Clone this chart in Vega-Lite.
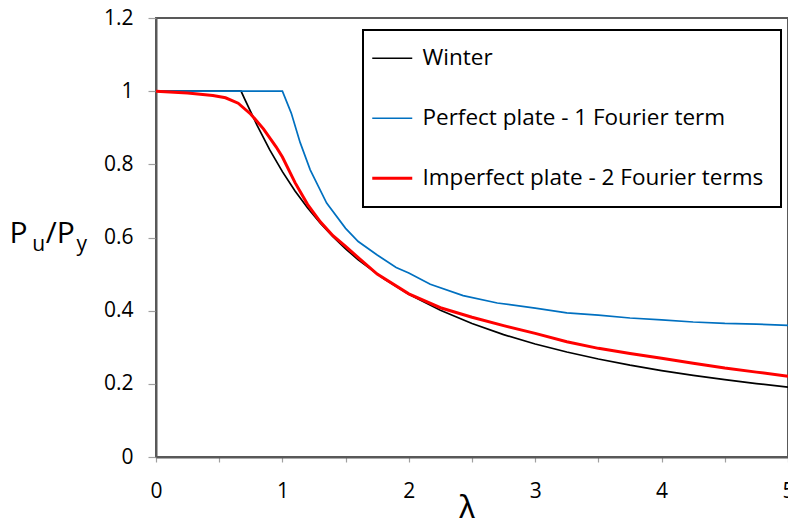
{
  "$schema": "https://vega.github.io/schema/vega-lite/v6.json",
  "width": 632,
  "height": 439,
  "autosize": {"type": "none"},
  "padding": {"left": 156, "top": 18, "right": 0, "bottom": 61},
  "background": "white",
  "config": {
    "view": {"stroke": "#595959", "strokeWidth": 2},
    "font": "Open Sans",
    "axis": {
      "grid": false,
      "domainColor": "#595959",
      "domainWidth": 2,
      "tickColor": "#a0a0a0",
      "tickWidth": 1.2,
      "labelFont": "Open Sans",
      "labelFontSize": 21,
      "labelColor": "#000000",
      "labelFlush": false,
      "labelOverlap": false
    }
  },
  "data": {
    "values": [
      {"series": "Winter", "lam": 0, "v": 1.0},
      {"series": "Winter", "lam": 0.673, "v": 1.0},
      {"series": "Winter", "lam": 0.7, "v": 0.9796},
      {"series": "Winter", "lam": 0.8, "v": 0.9063},
      {"series": "Winter", "lam": 0.9, "v": 0.8395},
      {"series": "Winter", "lam": 1.0, "v": 0.78},
      {"series": "Winter", "lam": 1.1, "v": 0.7273},
      {"series": "Winter", "lam": 1.2, "v": 0.6806},
      {"series": "Winter", "lam": 1.3, "v": 0.6391},
      {"series": "Winter", "lam": 1.4, "v": 0.602},
      {"series": "Winter", "lam": 1.5, "v": 0.5689},
      {"series": "Winter", "lam": 1.6, "v": 0.5391},
      {"series": "Winter", "lam": 1.8, "v": 0.4877},
      {"series": "Winter", "lam": 2.0, "v": 0.445},
      {"series": "Winter", "lam": 2.25, "v": 0.401},
      {"series": "Winter", "lam": 2.5, "v": 0.3648},
      {"series": "Winter", "lam": 2.75, "v": 0.3345},
      {"series": "Winter", "lam": 3.0, "v": 0.3089},
      {"series": "Winter", "lam": 3.25, "v": 0.2869},
      {"series": "Winter", "lam": 3.5, "v": 0.2678},
      {"series": "Winter", "lam": 3.75, "v": 0.251},
      {"series": "Winter", "lam": 4.0, "v": 0.2363},
      {"series": "Winter", "lam": 4.25, "v": 0.2231},
      {"series": "Winter", "lam": 4.5, "v": 0.2114},
      {"series": "Winter", "lam": 4.75, "v": 0.2008},
      {"series": "Winter", "lam": 5.0, "v": 0.1912},

      {"series": "Perfect plate - 1 Fourier term", "lam": 0, "v": 1.0},
      {"series": "Perfect plate - 1 Fourier term", "lam": 1.0, "v": 1.0},
      {"series": "Perfect plate - 1 Fourier term", "lam": 1.07, "v": 0.94},
      {"series": "Perfect plate - 1 Fourier term", "lam": 1.14, "v": 0.86},
      {"series": "Perfect plate - 1 Fourier term", "lam": 1.22, "v": 0.785},
      {"series": "Perfect plate - 1 Fourier term", "lam": 1.35, "v": 0.694},
      {"series": "Perfect plate - 1 Fourier term", "lam": 1.5, "v": 0.625},
      {"series": "Perfect plate - 1 Fourier term", "lam": 1.6, "v": 0.589},
      {"series": "Perfect plate - 1 Fourier term", "lam": 1.75, "v": 0.552},
      {"series": "Perfect plate - 1 Fourier term", "lam": 1.9, "v": 0.518},
      {"series": "Perfect plate - 1 Fourier term", "lam": 2.0, "v": 0.503},
      {"series": "Perfect plate - 1 Fourier term", "lam": 2.17, "v": 0.472},
      {"series": "Perfect plate - 1 Fourier term", "lam": 2.43, "v": 0.441},
      {"series": "Perfect plate - 1 Fourier term", "lam": 2.7, "v": 0.421},
      {"series": "Perfect plate - 1 Fourier term", "lam": 3.0, "v": 0.407},
      {"series": "Perfect plate - 1 Fourier term", "lam": 3.25, "v": 0.394},
      {"series": "Perfect plate - 1 Fourier term", "lam": 3.5, "v": 0.388},
      {"series": "Perfect plate - 1 Fourier term", "lam": 3.75, "v": 0.38},
      {"series": "Perfect plate - 1 Fourier term", "lam": 4.0, "v": 0.375},
      {"series": "Perfect plate - 1 Fourier term", "lam": 4.25, "v": 0.369},
      {"series": "Perfect plate - 1 Fourier term", "lam": 4.5, "v": 0.365},
      {"series": "Perfect plate - 1 Fourier term", "lam": 4.75, "v": 0.363},
      {"series": "Perfect plate - 1 Fourier term", "lam": 5.0, "v": 0.36},

      {"series": "Imperfect plate - 2 Fourier terms", "lam": 0, "v": 1.0},
      {"series": "Imperfect plate - 2 Fourier terms", "lam": 0.25, "v": 0.995},
      {"series": "Imperfect plate - 2 Fourier terms", "lam": 0.45, "v": 0.988},
      {"series": "Imperfect plate - 2 Fourier terms", "lam": 0.55, "v": 0.982},
      {"series": "Imperfect plate - 2 Fourier terms", "lam": 0.65, "v": 0.967},
      {"series": "Imperfect plate - 2 Fourier terms", "lam": 0.75, "v": 0.937},
      {"series": "Imperfect plate - 2 Fourier terms", "lam": 0.85, "v": 0.897},
      {"series": "Imperfect plate - 2 Fourier terms", "lam": 0.95, "v": 0.848},
      {"series": "Imperfect plate - 2 Fourier terms", "lam": 1.0, "v": 0.82},
      {"series": "Imperfect plate - 2 Fourier terms", "lam": 1.1, "v": 0.75},
      {"series": "Imperfect plate - 2 Fourier terms", "lam": 1.2, "v": 0.69},
      {"series": "Imperfect plate - 2 Fourier terms", "lam": 1.3, "v": 0.643},
      {"series": "Imperfect plate - 2 Fourier terms", "lam": 1.4, "v": 0.605},
      {"series": "Imperfect plate - 2 Fourier terms", "lam": 1.5, "v": 0.576},
      {"series": "Imperfect plate - 2 Fourier terms", "lam": 1.6, "v": 0.545},
      {"series": "Imperfect plate - 2 Fourier terms", "lam": 1.75, "v": 0.5},
      {"series": "Imperfect plate - 2 Fourier terms", "lam": 2.0, "v": 0.446},
      {"series": "Imperfect plate - 2 Fourier terms", "lam": 2.25, "v": 0.408},
      {"series": "Imperfect plate - 2 Fourier terms", "lam": 2.5, "v": 0.382},
      {"series": "Imperfect plate - 2 Fourier terms", "lam": 2.75, "v": 0.359},
      {"series": "Imperfect plate - 2 Fourier terms", "lam": 3.0, "v": 0.338},
      {"series": "Imperfect plate - 2 Fourier terms", "lam": 3.25, "v": 0.315},
      {"series": "Imperfect plate - 2 Fourier terms", "lam": 3.5, "v": 0.297},
      {"series": "Imperfect plate - 2 Fourier terms", "lam": 3.75, "v": 0.283},
      {"series": "Imperfect plate - 2 Fourier terms", "lam": 4.0, "v": 0.27},
      {"series": "Imperfect plate - 2 Fourier terms", "lam": 4.25, "v": 0.256},
      {"series": "Imperfect plate - 2 Fourier terms", "lam": 4.5, "v": 0.243},
      {"series": "Imperfect plate - 2 Fourier terms", "lam": 4.75, "v": 0.232},
      {"series": "Imperfect plate - 2 Fourier terms", "lam": 5.0, "v": 0.221}
    ]
  },
  "layer": [
    {
      "mark": {"type": "line", "clip": false},
      "encoding": {
        "x": {
          "field": "lam",
          "type": "quantitative",
          "scale": {"domain": [0, 5], "nice": false, "zero": false},
          "axis": {
            "values": [0, 0.5, 1, 1.5, 2, 2.5, 3, 3.5, 4, 4.5, 5],
            "labelExpr": "datum.value % 1 ? '' : format(datum.value, 'd')",
            "tickSize": 5,
            "labelPadding": 18,
            "title": "λ",
            "titleFont": "Open Sans",
            "titleFontSize": 34,
            "titleFontWeight": "normal",
            "titleColor": "#000000",
            "titlePadding": -9,
            "titleX": 311
          }
        },
        "y": {
          "field": "v",
          "type": "quantitative",
          "scale": {"domain": [0, 1.2], "nice": false},
          "axis": {
            "values": [0, 0.2, 0.4, 0.6, 0.8, 1, 1.2],
            "format": "~g",
            "tickSize": 8,
            "labelPadding": 15,
            "title": null
          }
        },
        "color": {
          "field": "series",
          "type": "nominal",
          "sort": null,
          "scale": {
            "domain": ["Winter", "Perfect plate - 1 Fourier term", "Imperfect plate - 2 Fourier terms"],
            "range": ["#000000", "#0070C0", "#FF0000"]
          },
          "legend": {
            "orient": "none",
            "legendX": 207,
            "legendY": 12,
            "title": null,
            "symbolType": "stroke",
            "symbolSize": 1600,
            "symbolStrokeWidth": 2,
            "symbolOffset": 1,
            "labelFont": "Open Sans",
            "labelFontSize": 22.5,
            "labelColor": "#000000",
            "labelOffset": 19,
            "labelLimit": 500,
            "padding": 17,
            "rowPadding": 37,
            "strokeColor": "#000000",
            "fillColor": "#ffffff",
            "encode": {
              "symbols": {
                "update": {
                  "strokeWidth": {"signal": "datum.value === 'Imperfect plate - 2 Fourier terms' ? 3 : 1.7"}
                }
              },
              "legend": {"update": {"strokeWidth": {"value": 2}}}
            }
          }
        },
        "strokeWidth": {
          "condition": {"test": "datum.series === 'Imperfect plate - 2 Fourier terms'", "value": 3},
          "value": 1.7
        }
      }
    },
    {
      "data": {"values": [{}]},
      "mark": {"type": "text", "text": "P", "align": "left", "baseline": "alphabetic", "fontSize": 30, "font": "Open Sans", "color": "#000000"},
      "encoding": {"x": {"datum": -1.16, "type": "quantitative"}, "y": {"datum": 0.585, "type": "quantitative"}}
    },
    {
      "data": {"values": [{}]},
      "mark": {"type": "text", "text": "u", "align": "left", "baseline": "alphabetic", "fontSize": 21, "font": "Open Sans", "color": "#000000"},
      "encoding": {"x": {"datum": -0.98, "type": "quantitative"}, "y": {"datum": 0.563, "type": "quantitative"}}
    },
    {
      "data": {"values": [{}]},
      "mark": {"type": "text", "text": "/P", "align": "left", "baseline": "alphabetic", "fontSize": 30, "font": "Open Sans", "color": "#000000"},
      "encoding": {"x": {"datum": -0.872, "type": "quantitative"}, "y": {"datum": 0.585, "type": "quantitative"}}
    },
    {
      "data": {"values": [{}]},
      "mark": {"type": "text", "text": "y", "align": "left", "baseline": "alphabetic", "fontSize": 21, "font": "Open Sans", "color": "#000000"},
      "encoding": {"x": {"datum": -0.628, "type": "quantitative"}, "y": {"datum": 0.563, "type": "quantitative"}}
    }
  ]
}
